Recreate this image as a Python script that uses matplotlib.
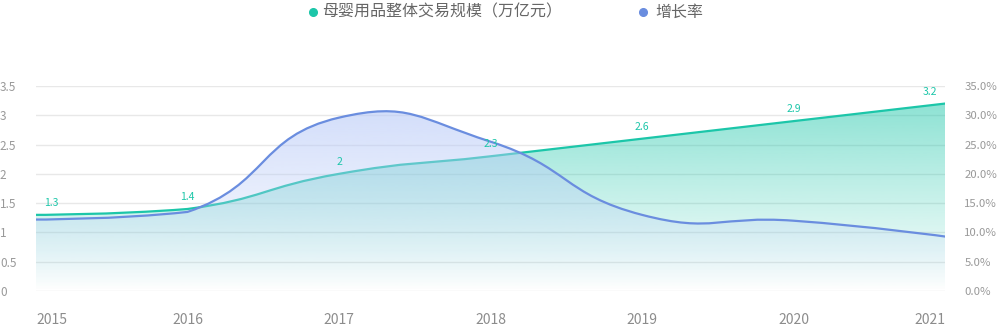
import numpy as np
import matplotlib
matplotlib.use('Agg')
import matplotlib.pyplot as plt
from matplotlib.path import Path
from matplotlib.patches import PathPatch
from matplotlib.lines import Line2D
from matplotlib.colors import to_rgb

plt.rcParams['font.family'] = ['Noto Sans CJK SC', 'DejaVu Sans']

############################## Data ############################################
years = ['2015', '2016', '2017', '2018', '2019', '2020', '2021']
scale = [1.3, 1.4, 2.0, 2.3, 2.6, 2.9, 3.2]          # 万亿元
growth = [12.2, 13.5, 29.6, 25.5, 13.0, 12.0, 9.3]    # %
scale_name = '母婴用品整体交易规模（万亿元）'
growth_name = '增长率'

teal = '#1cc6a9'
blue = '#6a8ddf'
blue_fill = '#b9cbf8'
grey = '#999999'

############################## Functions #######################################
def smooth_path(ax, xs, ys, smooth=0.5):
    # bezier smoothing in screen space; the control point entering a point
    # is kept between that point and the previous one
    pts = ax.transData.transform(np.column_stack([xs, ys]))
    verts = [pts[0]]
    codes = [Path.MOVETO]
    cp0 = pts[0].copy()
    n = len(pts)
    for i in range(1, n):
        p, prev = pts[i], pts[i - 1]
        if i + 1 < n:
            nxt = pts[i + 1]
            v = nxt - prev
            d0 = np.hypot(*(p - prev))
            d1 = np.hypot(*(nxt - p))
            ratio = d1 / (d0 + d1)
            cp1 = p - v * smooth * (1 - ratio)
            cp1 = np.clip(cp1, np.minimum(prev, p), np.maximum(prev, p))
        else:
            v = np.zeros(2)
            ratio = 0.5
            cp1 = p.copy()
        verts += [cp0, cp1, p]
        codes += [Path.CURVE4] * 3
        cp0 = p + v * smooth * ratio
    verts = ax.transData.inverted().transform(np.array(verts))
    return verts, codes


def draw_series(ax, xs, ys, color, fill, top_alpha, lw=1.6):
    verts, codes = smooth_path(ax, xs, ys)
    curve = Path(verts, codes)
    ytop = curve.get_extents().y1
    # area below the curve, filled with a fading gradient
    area_verts = np.vstack([verts, [[xs[-1], 0], [xs[0], 0], [xs[0], 0]]])
    area_codes = codes + [Path.LINETO, Path.LINETO, Path.CLOSEPOLY]
    patch = PathPatch(Path(area_verts, area_codes), facecolor='none',
                      edgecolor='none')
    ax.add_patch(patch)
    grad = np.zeros((256, 1, 4))
    grad[..., :3] = to_rgb(fill)
    grad[..., 3] = np.linspace(top_alpha, 0.0, 256)[:, None]
    im = ax.imshow(grad, aspect='auto', origin='upper', interpolation='bilinear',
                   extent=[xs[0], xs[-1], 0, ytop], zorder=1)
    im.set_clip_path(patch)
    line = PathPatch(curve, facecolor='none', edgecolor=color,
                     lw=lw, zorder=3, capstyle='round', joinstyle='round')
    ax.add_patch(line)

############################## Plot ############################################
fig = plt.figure(figsize=(10, 3.26), dpi=100)
ax = fig.add_axes([0.036, 0.1074, 0.909, 0.6288])
ax2 = ax.twinx()

x = np.arange(len(years))
ax.set_xlim(0, len(years) - 1)
ax.set_ylim(0, 3.5)
ax2.set_ylim(0, 35)

for a in (ax, ax2):
    for s in a.spines.values():
        s.set_visible(False)
    a.tick_params(length=0)

ax.set_yticks(np.arange(0, 3.51, 0.5))
ax.set_yticklabels(['{:g}'.format(v) for v in np.arange(0, 3.51, 0.5)],
                   fontsize=8.5, color=grey)
for lab in ax.get_yticklabels():
    lab.set_horizontalalignment('left')
ax.tick_params(axis='y', pad=26)
ax.grid(axis='y', color='#e8e8e8', lw=1)
ax.set_axisbelow(True)

ax2.set_yticks(np.arange(0, 35.1, 5))
ax2.set_yticklabels(['{:.1f}%'.format(v) for v in np.arange(0, 35.1, 5)],
                    fontsize=8.2, color=grey)
ax2.tick_params(axis='y', pad=14)

ax.set_xticks(x)
ax.set_xticklabels(years, fontsize=10, color='#8c8c8c')
ax.tick_params(axis='x', pad=16)
xl = ax.get_xticklabels()
xl[0].set_horizontalalignment('left')
xl[-1].set_horizontalalignment('right')

draw_series(ax, x, scale, teal, teal, 0.5)
draw_series(ax2, x, growth, blue, blue_fill, 0.62)

# imshow resets the limits
ax.set_xlim(0, len(years) - 1)
ax.set_ylim(0, 3.5)
ax2.set_ylim(0, 35)

# value labels above the scale line
for i, v in enumerate(scale):
    dx = 11 if i == 0 else (-11 if i == len(scale) - 1 else 0)
    ax2.annotate('{:g}'.format(v), (x[i], v), xycoords=ax.transData,
                 xytext=(dx, 5), textcoords='offset points', ha='center',
                 va='bottom', fontsize=7.5, color=teal, zorder=5)

############################## Legend ##########################################
legend_y = 0.963
for cx, tx, col, name in [(0.313, 0.322, teal, scale_name),
                          (0.643, 0.655, blue, growth_name)]:
    fig.add_artist(Line2D([cx], [legend_y], ls='none', marker='o', ms=5.5,
                          color=col, transform=fig.transFigure))
    fig.text(tx, legend_y, name, fontsize=11.5, color='#666666',
             ha='left', va='center')

plt.savefig('out.png', dpi=100)
